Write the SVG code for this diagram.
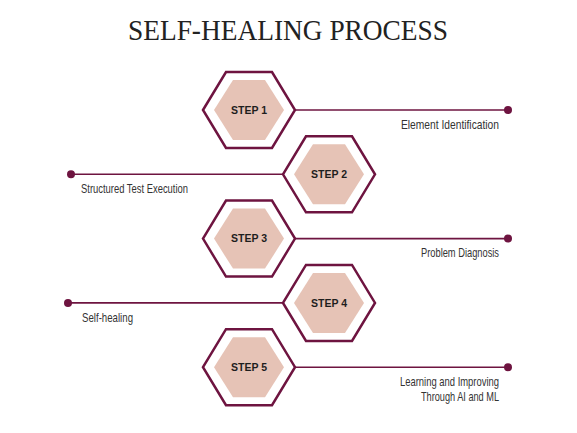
<svg xmlns="http://www.w3.org/2000/svg" xmlns:xlink="http://www.w3.org/1999/xlink" width="577" height="433" viewBox="0 0 577 433">
<style>
.bg{fill:#ffffff}
.outer{fill:none;stroke:#6e1440;stroke-width:2.5;stroke-linejoin:miter}
.inner{fill:#e6c3b6}
.step{font-family:"Liberation Sans",Arial,sans-serif;font-weight:bold;font-size:10.5px;fill:#1e1e1e;text-anchor:middle}
.conn{stroke:#6e1440;stroke-width:1.6;fill:none}
.dot{fill:#6e1440}
.lbl{font-family:"Liberation Sans",Arial,sans-serif;font-size:13.5px;fill:#333}
.title{font-family:"Liberation Serif","Times New Roman",serif;font-size:30px;fill:#222}
</style>
<defs>
<polygon id="hexO" class="outer" points="-46,0 -23,-38 23,-38 46,0 23,38 -23,38"/>
<polygon id="hexI" class="inner" points="-35,0 -16,-30 16,-30 35,0 16,30 -16,30"/>
</defs>
<rect class="bg" x="0" y="0" width="577" height="433"/>
<text class="title" x="128" y="40" textLength="320" lengthAdjust="spacingAndGlyphs">SELF-HEALING PROCESS</text>
<g id="connectors">
<line class="conn" x1="295" y1="110" x2="508" y2="110"/><circle class="dot" cx="508" cy="110" r="4"/>
<line class="conn" x1="71" y1="174.3" x2="283" y2="174.3"/><circle class="dot" cx="71" cy="174.3" r="4"/>
<line class="conn" x1="295" y1="238.6" x2="508" y2="238.6"/><circle class="dot" cx="508" cy="238.6" r="4"/>
<line class="conn" x1="68" y1="302.9" x2="283" y2="302.9"/><circle class="dot" cx="68" cy="302.9" r="4"/>
<line class="conn" x1="295" y1="367.2" x2="508" y2="367.2"/><circle class="dot" cx="508" cy="367.2" r="4"/>
</g>
<g id="step1" transform="translate(249,110)"><use xlink:href="#hexO"/><use xlink:href="#hexI"/><text class="step" x="0" y="3.7">STEP 1</text></g>
<g id="step2" transform="translate(329,174.3)"><use xlink:href="#hexO"/><use xlink:href="#hexI"/><text class="step" x="0" y="3.7">STEP 2</text></g>
<g id="step3" transform="translate(249,238.6)"><use xlink:href="#hexO"/><use xlink:href="#hexI"/><text class="step" x="0" y="3.7">STEP 3</text></g>
<g id="step4" transform="translate(329,302.9)"><use xlink:href="#hexO"/><use xlink:href="#hexI"/><text class="step" x="0" y="3.7">STEP 4</text></g>
<g id="step5" transform="translate(249,367.2)"><use xlink:href="#hexO"/><use xlink:href="#hexI"/><text class="step" x="0" y="3.7">STEP 5</text></g>
<g id="labels">
<text class="lbl" x="401" y="129" textLength="98" lengthAdjust="spacingAndGlyphs">Element Identification</text>
<text class="lbl" x="81" y="193" textLength="107" lengthAdjust="spacingAndGlyphs">Structured Test Execution</text>
<text class="lbl" x="421" y="257" textLength="78" lengthAdjust="spacingAndGlyphs">Problem Diagnosis</text>
<text class="lbl" x="82" y="321.5" textLength="51" lengthAdjust="spacingAndGlyphs">Self-healing</text>
<text class="lbl" x="400" y="385.5" textLength="99" lengthAdjust="spacingAndGlyphs">Learning and Improving</text>
<text class="lbl" x="421" y="400.5" textLength="78" lengthAdjust="spacingAndGlyphs">Through AI and ML</text>
</g>
</svg>
